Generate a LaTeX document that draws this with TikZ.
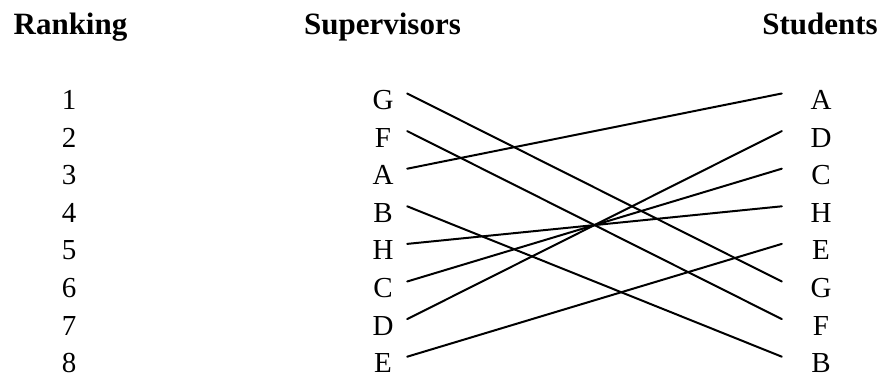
\documentclass[tikz,border=0pt]{standalone}
\usepackage{fontspec}
\setmainfont{Liberation Serif}
\begin{document}
\begin{tikzpicture}[x=1pt,y=-1pt,
  head/.style={font=\fontsize{31}{31}\selectfont\bfseries, inner sep=0pt, anchor=base},
  rank/.style={font=\fontsize{29}{29}\selectfont, inner sep=0pt, anchor=base},
  sup/.style={font=\fontsize{29}{29}\selectfont, inner sep=0pt, anchor=base, text height=32pt, text depth=0pt, minimum width=48pt},
  stu/.style={font=\fontsize{29}{29}\selectfont, inner sep=0pt, anchor=base, text height=32pt, text depth=0pt, minimum width=78pt},
  link/.style={line width=2pt, line cap=round}]
\useasboundingbox (0,0) rectangle (886,379);
\node[head] (hR) at (70.5,35) {Ranking};
\node[head] (hS) at (382.5,35) {Supervisors};
\node[head] (hT) at (820,35) {Students};
\foreach \i/\s/\t in {1/G/A,2/F/D,3/A/C,4/B/H,5/H/E,6/C/G,7/D/F,8/E/B}{
  \pgfmathsetmacro{\yy}{109.5+37.6*(\i-1)}
  \node[rank] (r\i) at (69,\yy) {\i};
  \node[sup] (s\s) at (383,\yy) {\s};
  \node[stu] (t\t) at (821,\yy) {\t};
}
\foreach \a in {G,F,A,B,H,C,D,E}{
  \draw[link] (s\a.east) -- (t\a.west);
}
\end{tikzpicture}
\end{document}
